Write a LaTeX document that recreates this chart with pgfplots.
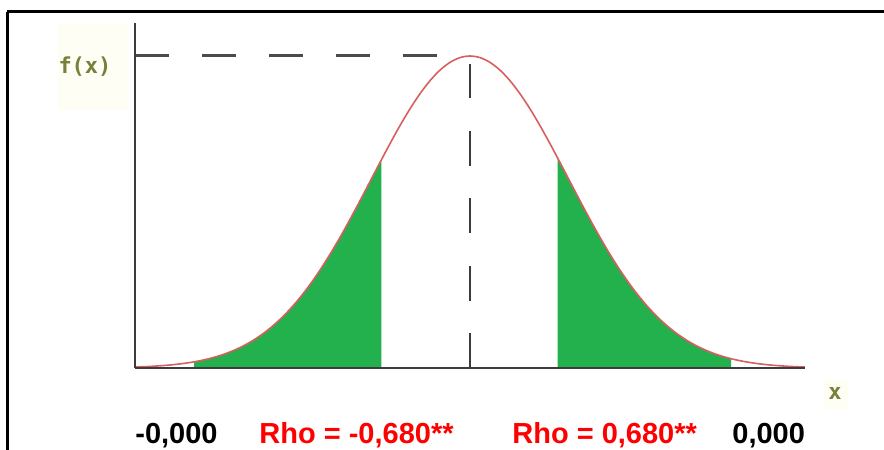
\documentclass[border=0pt]{standalone}
\usepackage{pgfplots}
\pgfplotsset{compat=1.18}
\usepackage{fontspec}
\setmainfont{Liberation Sans}
\newfontfamily\labfont{DejaVu Sans Mono}
\definecolor{fillgreen}{RGB}{34,177,76}
\definecolor{curvered}{RGB}{215,95,95}
\definecolor{axgray}{RGB}{60,60,60}
\definecolor{dashgray}{RGB}{75,75,75}
\definecolor{olivelab}{RGB}{120,128,60}
\definecolor{faint}{RGB}{254,254,245}
\definecolor{rhored}{RGB}{255,0,0}
\begin{document}
\begin{tikzpicture}
\begin{scope}[x=0.5pt,y=-0.5pt,xshift=-235pt,yshift=184pt]
\useasboundingbox (0,0) rectangle (884,450);
\fill[faint] (58,23) rectangle (128,110);
\fill[faint] (824,380) rectangle (848,410);
\draw[line width=1.5pt] (7,12) -- (884,12);
\draw[line width=1.5pt] (8,12) -- (8,450);
\node[olivelab, font=\labfont\bfseries\fontsize{11pt}{11pt}\selectfont] at (85,67) {f(x)};
\node[olivelab, font=\labfont\bfseries\fontsize{11pt}{11pt}\selectfont] at (835,393) {x};
\node[anchor=base west, inner sep=0pt, font=\bfseries\fontsize{14.5pt}{17pt}\selectfont] at (135,443) {-0,000};
\node[anchor=base west, inner sep=0pt, text=rhored, font=\bfseries\fontsize{14.5pt}{17pt}\selectfont] at (259,443) {Rho = -0,680**};
\node[anchor=base west, inner sep=0pt, text=rhored, font=\bfseries\fontsize{14.5pt}{17pt}\selectfont] at (512,443) {Rho = 0,680**};
\node[anchor=base west, inner sep=0pt, font=\bfseries\fontsize{14.5pt}{17pt}\selectfont] at (732,443) {0,000};
\end{scope}
\begin{axis}[
  at={(-167.45pt,0pt)}, anchor=south west,
  x=49.25pt, y=156pt,
  xmin=-3.4, xmax=3.4, ymin=0, ymax=1.106,
  axis lines=left,
  axis line style={-, axgray, line width=1.25pt},
  ticks=none,
  axis on top=true,
  clip=false,
]
% left shaded tail
\addplot[fill=fillgreen, draw=none] coordinates {
 (-2.8,0) (-2.8,0.01984) (-2.7,0.02612) (-2.6,0.03405) (-2.5,0.04394) (-2.4,0.05613)
 (-2.3,0.07100) (-2.2,0.08892) (-2.1,0.11025) (-2.0,0.13534) (-1.9,0.16447)
 (-1.8,0.19790) (-1.7,0.23575) (-1.6,0.27804) (-1.5,0.32465) (-1.4,0.37531)
 (-1.3,0.42956) (-1.2,0.48675) (-1.1,0.54607) (-1.0,0.60653) (-0.9,0.66698) (-0.9,0)
} \closedcycle;
% right shaded tail
\addplot[fill=fillgreen, draw=none] coordinates {
 (0.89,0) (0.89,0.67300) (1.0,0.60653) (1.1,0.54607) (1.2,0.48675) (1.3,0.42956)
 (1.4,0.37531) (1.5,0.32465) (1.6,0.27804) (1.7,0.23575) (1.8,0.19790)
 (1.9,0.16447) (2.0,0.13534) (2.1,0.11025) (2.2,0.08892) (2.3,0.07100)
 (2.4,0.05613) (2.5,0.04394) (2.6,0.03405) (2.65,0.02980) (2.65,0)
} \closedcycle;
% reference dashed lines
\addplot[dashgray, line width=1.5pt, dash pattern=on 17pt off 16.5pt] coordinates {(-3.4,1) (0,1)};
\addplot[axgray, line width=1.1pt, dash pattern=on 17.5pt off 16.2pt] coordinates {(0,0) (0,0.975)};
% density curve
\addplot[curvered, line width=0.8pt, smooth] coordinates {
 (-3.4,0.00309) (-3.3,0.00432) (-3.2,0.00598) (-3.1,0.00819) (-3.0,0.01111)
 (-2.9,0.01492) (-2.8,0.01984) (-2.7,0.02612) (-2.6,0.03405) (-2.5,0.04394)
 (-2.4,0.05613) (-2.3,0.07100) (-2.2,0.08892) (-2.1,0.11025) (-2.0,0.13534)
 (-1.9,0.16447) (-1.8,0.19790) (-1.7,0.23575) (-1.6,0.27804) (-1.5,0.32465)
 (-1.4,0.37531) (-1.3,0.42956) (-1.2,0.48675) (-1.1,0.54607) (-1.0,0.60653)
 (-0.9,0.66698) (-0.8,0.72615) (-0.7,0.78270) (-0.6,0.83527) (-0.5,0.88250)
 (-0.4,0.92312) (-0.3,0.95600) (-0.2,0.98020) (-0.1,0.99501) (0.0,1.00000)
 (0.1,0.99501) (0.2,0.98020) (0.3,0.95600) (0.4,0.92312) (0.5,0.88250)
 (0.6,0.83527) (0.7,0.78270) (0.8,0.72615) (0.9,0.66698) (1.0,0.60653)
 (1.1,0.54607) (1.2,0.48675) (1.3,0.42956) (1.4,0.37531) (1.5,0.32465)
 (1.6,0.27804) (1.7,0.23575) (1.8,0.19790) (1.9,0.16447) (2.0,0.13534)
 (2.1,0.11025) (2.2,0.08892) (2.3,0.07100) (2.4,0.05613) (2.5,0.04394)
 (2.6,0.03405) (2.7,0.02612) (2.8,0.01984) (2.9,0.01492) (3.0,0.01111)
 (3.1,0.00819) (3.2,0.00598) (3.3,0.00432) (3.4,0.00309)
};
\end{axis}
\end{tikzpicture}
\end{document}
